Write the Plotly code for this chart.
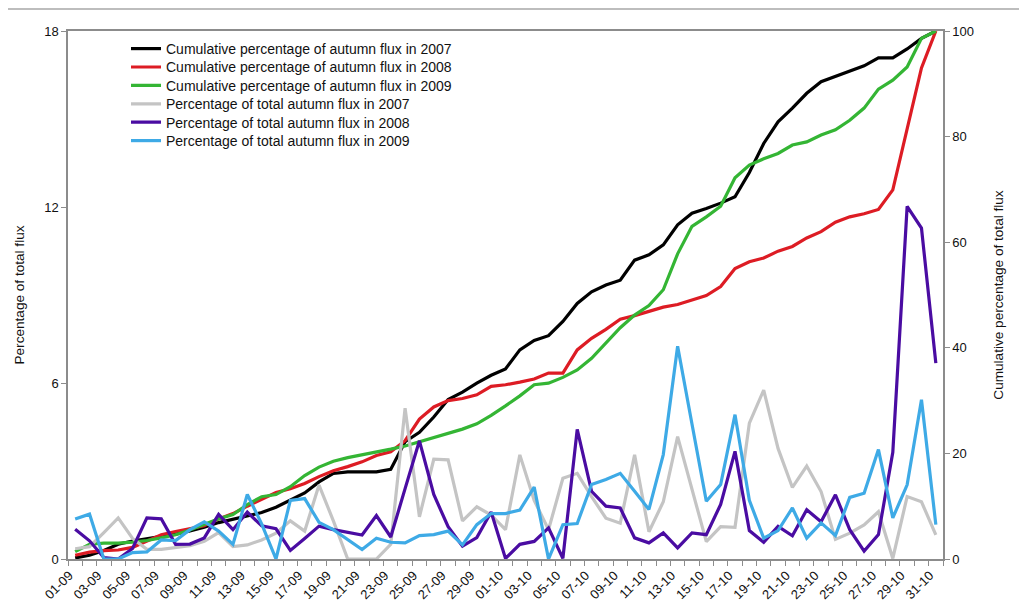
import plotly.graph_objects as go

dates = [f"{d:02d}-09" for d in range(1, 31)] + [f"{d:02d}-10" for d in range(1, 32)]

cum_2007 = [0.2, 0.7, 1.6, 2.8, 3.4, 3.8, 4.2, 4.7, 5.3, 6.0,
            6.9, 7.5, 8.1, 8.8, 9.8, 11.2, 12.5, 14.6, 16.2, 16.5,
            16.5, 16.5, 17.0, 22.2, 24.0, 26.9, 30.2, 31.6, 33.3, 34.8,
            36.0, 39.6, 41.4, 42.3, 45.0, 48.4, 50.6, 51.9, 52.8, 56.6,
            57.6, 59.5, 63.3, 65.5, 66.4, 67.4, 68.6, 73.2, 78.7, 82.8,
            85.4, 88.2, 90.4, 91.4, 92.3, 93.4, 94.9, 94.9, 96.6, 98.6, 100.0]
cum_2008 = [0.7, 1.3, 1.6, 1.7, 2.2, 3.4, 4.6, 5.2, 5.7, 6.3,
            7.6, 8.6, 10.0, 11.3, 12.6, 13.3, 14.3, 15.6, 16.7, 17.5,
            18.4, 19.6, 20.3, 22.4, 26.5, 28.8, 30.0, 30.4, 31.1, 32.7,
            33.0, 33.5, 34.1, 35.2, 35.2, 39.6, 41.8, 43.5, 45.4, 46.1,
            46.9, 47.7, 48.2, 49.0, 49.9, 51.6, 55.0, 56.3, 57.0, 58.3,
            59.2, 60.8, 62.0, 63.8, 64.8, 65.4, 66.2, 69.9, 81.5, 93.0, 100.0]
cum_2009 = [1.4, 2.8, 3.0, 3.0, 3.2, 3.5, 4.0, 4.6, 5.5, 6.6,
            7.6, 8.4, 10.3, 11.8, 12.2, 13.7, 15.8, 17.4, 18.5, 19.2,
            19.7, 20.2, 20.8, 21.4, 22.2, 23.0, 23.9, 24.6, 25.6, 27.2,
            29.0, 30.9, 33.0, 33.3, 34.4, 35.8, 38.0, 40.8, 43.8, 46.2,
            48.0, 51.0, 57.8, 63.0, 64.8, 66.8, 72.2, 74.6, 75.8, 76.8,
            78.4, 79.0, 80.3, 81.3, 83.1, 85.4, 89.0, 90.7, 93.2, 98.6, 100.0]

pct_2007 = [0.35, 0.42, 0.9, 1.4, 0.7, 0.33, 0.33, 0.38, 0.45, 0.6,
            0.9, 0.42, 0.48, 0.65, 0.88, 1.3, 0.95, 2.52, 1.3, 0.0,
            0.0, 0.0, 0.5, 5.14, 1.44, 3.4, 3.38, 1.3, 1.78, 1.5,
            1.0, 3.55, 2.0, 1.0, 2.75, 2.92, 2.13, 1.39, 1.22, 3.55,
            0.93, 1.95, 4.17, 2.41, 0.59, 1.1, 1.08, 4.63, 5.76, 3.77,
            2.44, 3.17, 2.3, 0.67, 0.88, 1.16, 1.61, 0.02, 2.13, 1.95, 0.82]
pct_2008 = [1.01, 0.62, 0.05, 0.0, 0.36, 1.4, 1.37, 0.5, 0.51, 0.72,
            1.52, 1.0, 1.6, 1.13, 1.03, 0.29, 0.7, 1.12, 1.0, 0.9,
            0.82, 1.48, 0.75, 2.4, 4.03, 2.2, 1.1, 0.44, 0.73, 1.6,
            0.02, 0.5, 0.6, 1.06, 0.02, 4.42, 2.31, 1.8, 1.74, 0.72,
            0.55, 0.89, 0.38, 0.89, 0.83, 1.86, 3.67, 0.97, 0.57, 1.11,
            0.79, 1.68, 1.27, 2.19, 1.0, 0.27, 0.83, 3.64, 12.02, 11.28, 6.68]
pct_2009 = [1.36, 1.53, 0.0, 0.0, 0.22, 0.24, 0.65, 0.63, 1.0, 1.27,
            0.95, 0.5, 2.2, 1.2, 0.0, 2.0, 2.06, 1.25, 1.0, 0.65,
            0.32, 0.71, 0.57, 0.55, 0.8, 0.83, 0.95, 0.48, 1.17, 1.55,
            1.55, 1.67, 2.45, 0.0, 1.17, 1.21, 2.54, 2.71, 2.92, 2.31,
            1.69, 3.56, 7.25, 4.6, 1.97, 2.54, 4.92, 2.0, 0.71, 0.97,
            1.74, 0.71, 1.23, 0.8, 2.1, 2.24, 3.73, 1.4, 2.53, 5.43, 1.17]

left_ticks = [0, 6, 12, 18]
right_ticks = [0, 20, 40, 60, 80, 100]

FONT = "Liberation Sans, Arial, sans-serif"
x_idx = list(range(len(dates)))

series = [
    ("Cumulative percentage of autumn flux in 2007", cum_2007, "#000000", "y"),
    ("Cumulative percentage of autumn flux in 2008", cum_2008, "#dd1c24", "y"),
    ("Cumulative percentage of autumn flux in 2009", cum_2009, "#34b534", "y"),
    ("Percentage of total autumn flux in 2007", pct_2007, "#c4c4c4", "y2"),
    ("Percentage of total autumn flux in 2008", pct_2008, "#4a0ca2", "y2"),
    ("Percentage of total autumn flux in 2009", pct_2009, "#3eaae6", "y2"),
]

# page body has an 8px offset; plot area spans x 68..943, y 31..559 in the page
PLOT_H = 528
legend_names = ["legend"] + [f"legend{k}" for k in range(2, 7)]

fig = go.Figure()
for k, (name, vals, color, ax) in enumerate(series):
    fig.add_trace(go.Scatter(x=x_idx, y=vals, name=name, mode="lines",
                             line=dict(color=color, width=3.2), yaxis=ax,
                             legend=legend_names[k]))

legend_layout = {}
for k, ln in enumerate(legend_names):
    yc = 49 + 18.4 * k
    legend_layout[ln] = dict(x=(126 - 68) / 875, y=(559 - yc) / PLOT_H,
                             xanchor="left", yanchor="middle",
                             bgcolor="rgba(0,0,0,0)",
                             font=dict(family=FONT, size=14, color="#111111"))

axis_line = "#8c8c8c"
fig.update_layout(
    width=1019, height=607,
    margin=dict(l=60, r=84, t=23, b=56),
    paper_bgcolor="white", plot_bgcolor="white",
    font=dict(family=FONT, size=12, color="#111111"),
    showlegend=True,
    xaxis=dict(range=[-0.5, len(dates) - 0.5], tickmode="array",
               tickvals=x_idx[::2], ticktext=dates[::2], tickangle=-45,
               ticks="", showline=True, linecolor=axis_line, linewidth=1.5, mirror=True,
               showgrid=False, zeroline=False,
               tickfont=dict(size=13), ticklabelshift=-6, ticklabelstandoff=2,
               minor=dict(ticks="outside", tickmode="array",
                          tickvals=[i - 0.5 for i in range(len(dates) + 1)],
                          ticklen=5, tickcolor=axis_line, tickwidth=1, showgrid=False)),
    yaxis=dict(range=[0, 100], side="right", tickmode="array", tickvals=right_ticks,
               ticks="outside", ticklen=5, tickcolor=axis_line, showline=True,
               linecolor=axis_line, linewidth=1.5, showgrid=False, zeroline=False,
               tickfont=dict(size=13),
               title=dict(text="Cumulative percentage of total flux", font=dict(size=13.6), standoff=20)),
    yaxis2=dict(range=[0, 18], side="left", overlaying="y", tickmode="array", tickvals=left_ticks,
                ticks="outside", ticklen=5, tickcolor=axis_line, showline=True,
                linecolor=axis_line, linewidth=1.5, showgrid=False, zeroline=False,
                tickfont=dict(size=13),
                title=dict(text="Percentage of total flux", font=dict(size=13.6), standoff=16)),
    shapes=[dict(type="line", xref="paper", yref="paper", x0=-0.069, x1=1.088,
                 y0=1 + 22 / PLOT_H, y1=1 + 22 / PLOT_H, line=dict(color="#bdbdbd", width=2))],
    **legend_layout,
)

fig.write_html("out.html")
